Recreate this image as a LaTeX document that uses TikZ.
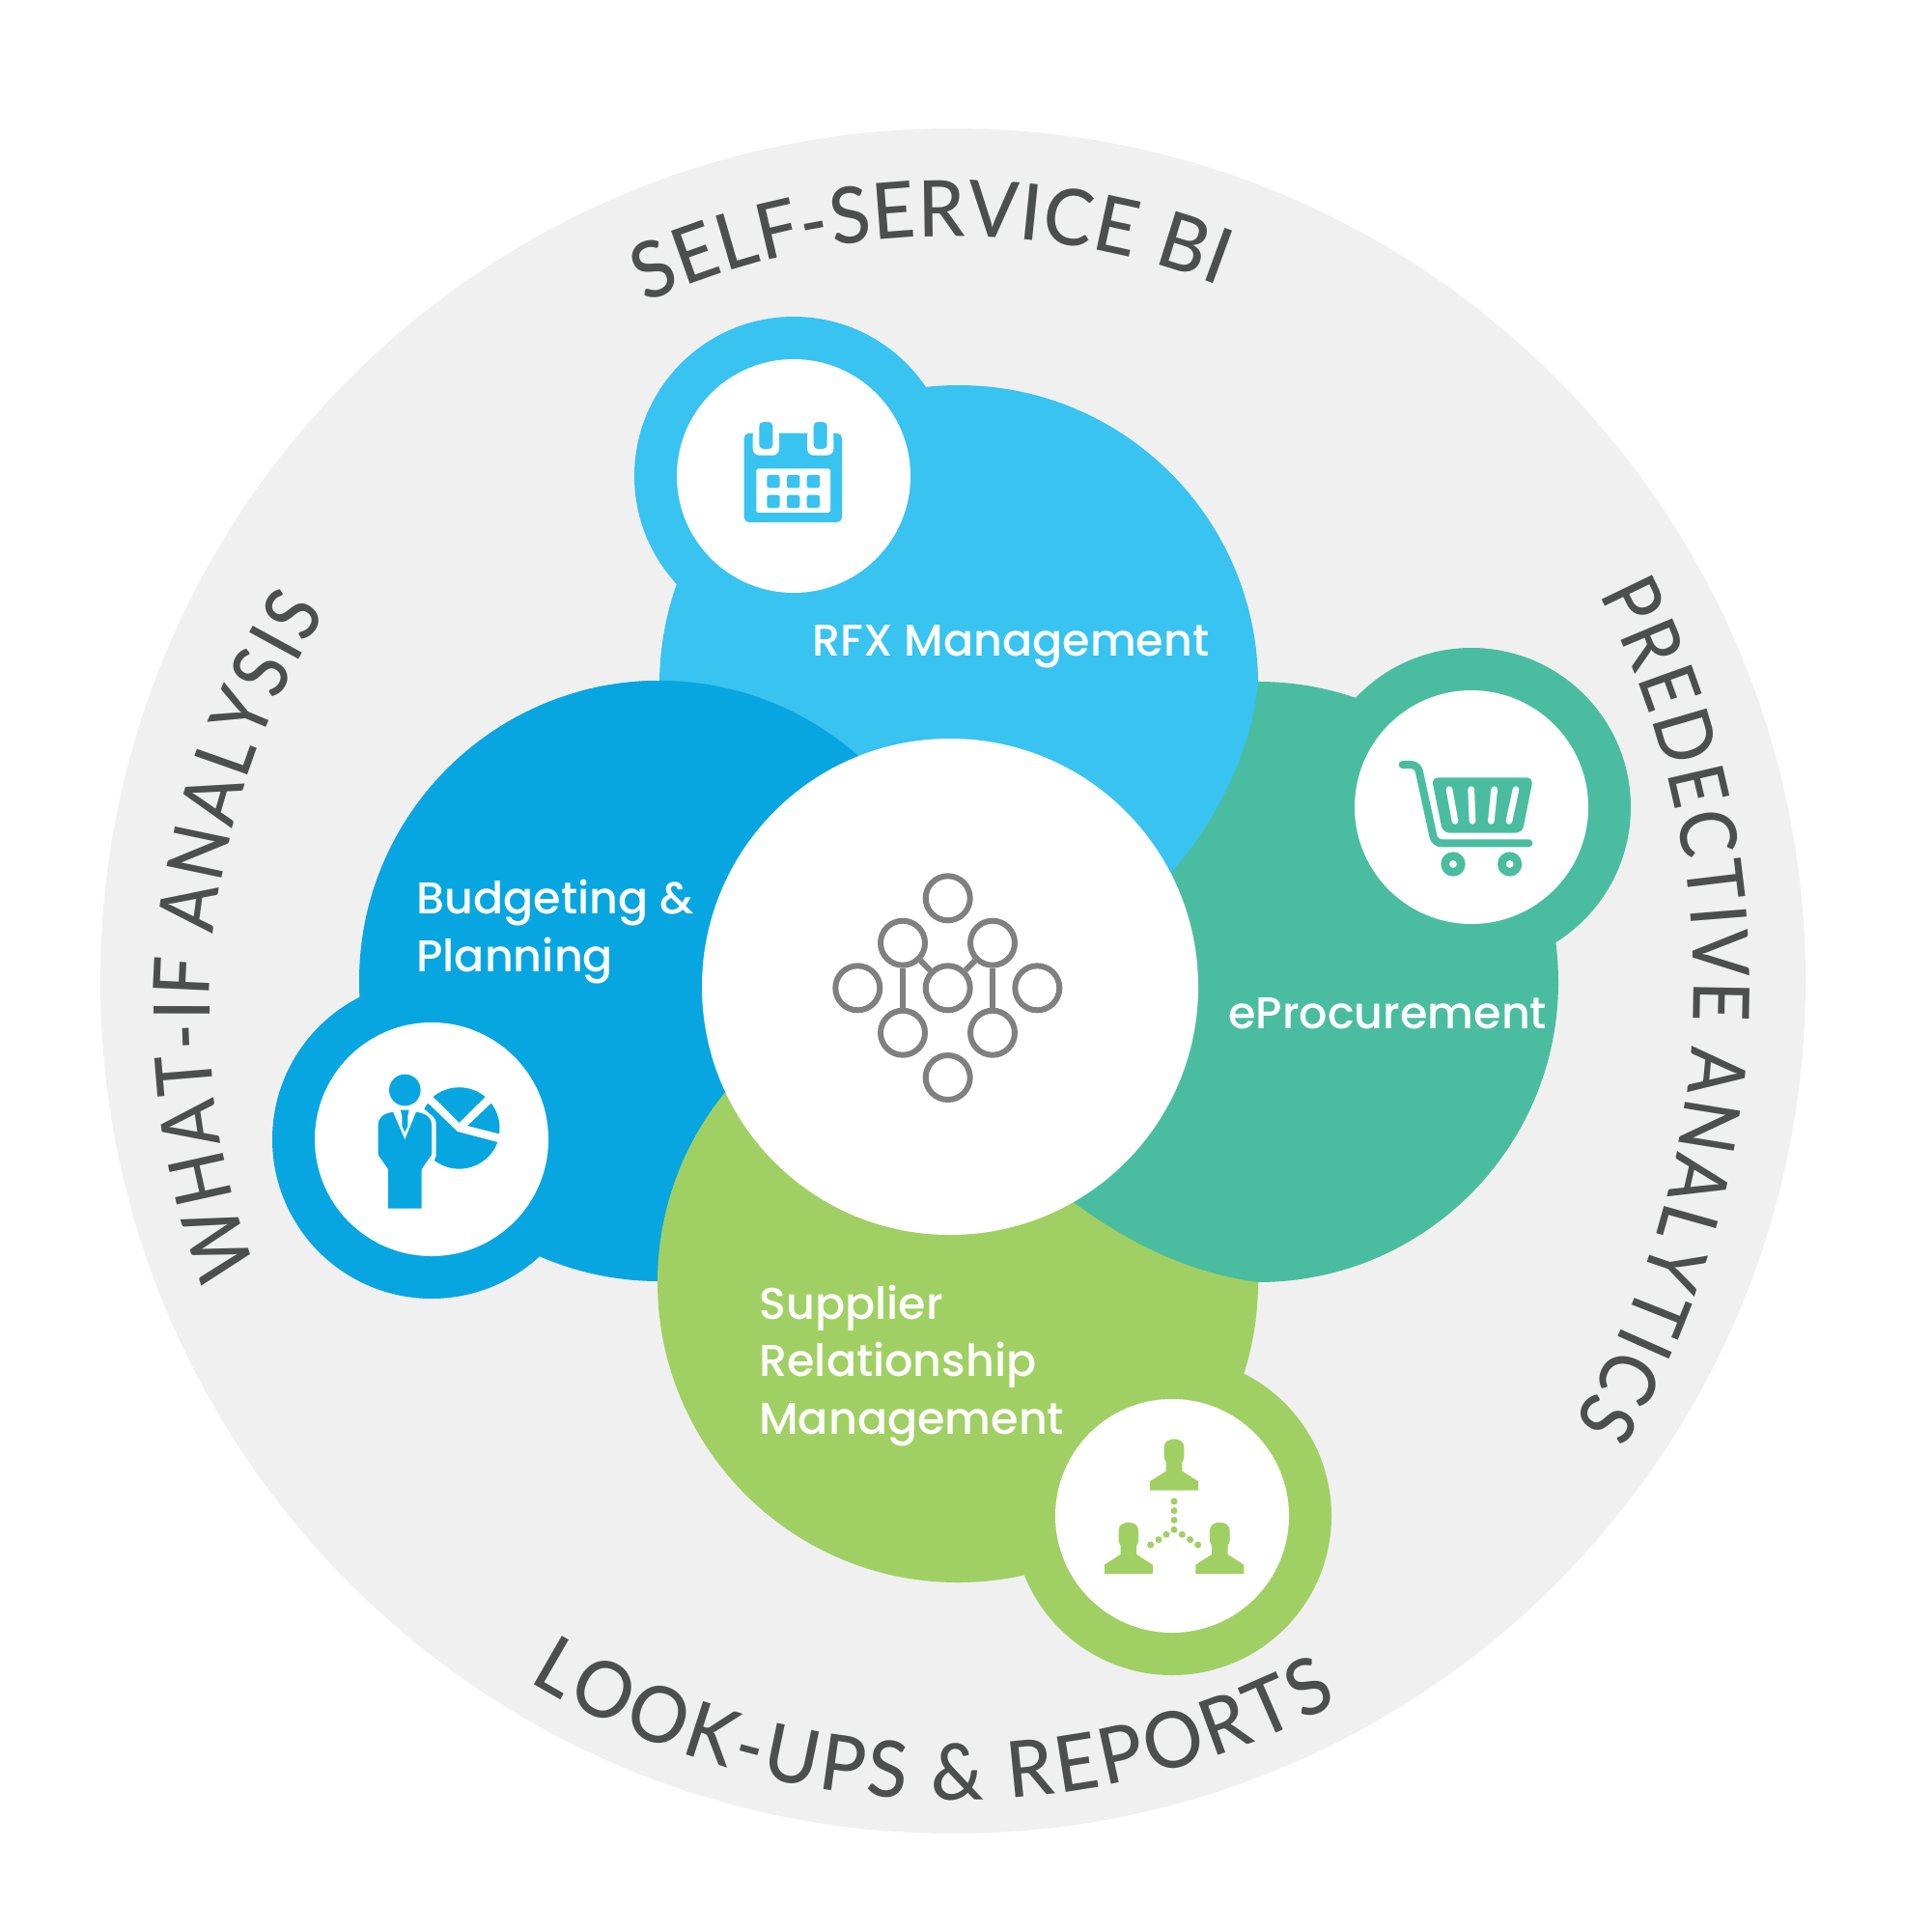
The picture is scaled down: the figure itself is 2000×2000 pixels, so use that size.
\documentclass[tikz,border=0pt]{standalone}
\usepackage{fontspec}
\setmainfont{Poppins Medium}
\newfontfamily\titlefont[FakeStretch=0.95]{Lato Medium}
\newfontfamily\narrowtitlefont[FakeStretch=0.88]{Lato Medium}
\usetikzlibrary{decorations.text}
\definecolor{ringgray}{HTML}{F0F0F0}
\definecolor{inkdark}{HTML}{4D4F4F}
\definecolor{iconrule}{HTML}{808080}
\definecolor{sky}{HTML}{38C3F0}
\definecolor{ocean}{HTML}{07A6E0}
\definecolor{teal}{HTML}{4ABDA0}
\definecolor{leaf}{HTML}{A0D063}
\newcommand\curvefont{\titlefont\fontsize{46pt}{50pt}\selectfont}
\newcommand\narrowcurvefont{\narrowtitlefont\fontsize{46pt}{50pt}\selectfont}
\tikzset{
  arcword/.style={decorate,decoration={text along path,text align=fit to path,text={|\curvefont\color{inkdark}|#1}}},
  arcwordtight/.style={decorate,decoration={text along path,text align=fit to path,text={|\narrowcurvefont\color{inkdark}|#1}}},
  label/.style={text=white,anchor=base west,inner sep=0pt,align=left,font=\fontsize{26.2pt}{33.6pt}\selectfont},
  hubring/.style={circle,draw=iconrule,line width=3.4pt,minimum size=0.92cm,inner sep=0pt},
  hublink/.style={draw=iconrule,line width=3.4pt},
  zoomgrid/.style={x=0.0066667cm,y=-0.0066667cm},
  personicon/.pic={
    \fill (-31,-135) .. controls (-31,-168) and (31,-168) .. (31,-135) -- (31,-100) -- (25,-88) -- (25,-60) -- (75,-28) -- (75,0) -- (-75,0) -- (-75,-28) -- (-25,-60) -- (-25,-88) -- (-31,-100) -- cycle;
  }
}
\begin{document}
\begin{tikzpicture}[x=0.02cm,y=-0.02cm]
\path[use as bounding box,fill=white] (-1,-1) rectangle (1999,1999);
\fill[ringgray] (986,1015) circle[radius=883];
\coordinate (hubtop) at (986,1018);
\coordinate (hubleft) at (986,1047);
\coordinate (hubright) at (866,1020);
\coordinate (hubbottom) at (986,1018);
% lobes
\fill[ocean] (682,1015) circle[radius=311] (446,1179) circle[radius=165];
\fill[leaf] (991,1327) circle[radius=311] (1213,1569) circle[radius=165];
\fill[teal] (1302,705) arc[start angle=-90,end angle=90,radius=311]
  .. controls (1235,1318) and (1170,1290) .. (1100,1236) -- (1000,1000) -- (1200,800) -- cycle;
\fill[teal] (1523,835) circle[radius=165];
\fill[sky] (682,708) arc[start angle=180,end angle=360,radius=310]
  .. controls (1293,785) and (1256,852) .. (1212,903) -- (1000,1000) -- (700,900) -- cycle;
\fill[sky] (821,492) circle[radius=165];
\begin{scope}
\clip (600,650) rectangle (1000,1016);
\fill[ocean] (682,1015) circle[radius=311];
\end{scope}
% white discs
\fill[white] (983,1021) circle[radius=257];
\fill[white] (821,492) circle[radius=121];
\fill[white] (446,1179) circle[radius=121];
\fill[white] (1523,835) circle[radius=121];
\fill[white] (1213,1569) circle[radius=121];
% hub icon
\node[hubring] (ntop) at (980.7,929.3) {};
\node[hubring] (nul) at (934,975.7) {};
\node[hubring] (nur) at (1027,975.7) {};
\node[hubring] (nleft) at (887.3,1022.3) {};
\node[hubring] (nmid) at (980.7,1022.3) {};
\node[hubring] (nright) at (1073.3,1022.3) {};
\node[hubring] (nll) at (934,1068.7) {};
\node[hubring] (nlr) at (1027,1068.7) {};
\node[hubring] (nbot) at (980.7,1115) {};
\draw[hublink] (nul) -- (nll);
\draw[hublink] (nur) -- (nlr);
\draw[hublink] (nul) -- (nmid);
\draw[hublink] (nur) -- (nmid);
% calendar
\begin{scope}[shift={(740,410)},zoomgrid]
\fill[sky,rounded corners=3pt] (89,113) rectangle (393,390);
\fill[white,rounded corners=4pt] (116,100) -- (116,182) -- (198,182) -- (198,100) -- cycle;
\fill[white,rounded corners=4pt] (285,100) -- (285,182) -- (367,182) -- (367,100) -- cycle;
\fill[sky,rounded corners=2.5pt] (136,78) rectangle (178,162);
\fill[sky,rounded corners=2.5pt] (305,78) rectangle (347,162);
\fill[white,rounded corners=1pt] (127,223) rectangle (357,360);
\foreach \cx in {160,222,284}{\foreach \cy in {243,305}{
  \fill[sky,rounded corners=1pt] (\cx,\cy) rectangle +(40,40);}}
\end{scope}
% presenter
\begin{scope}[shift={(350,1090)},zoomgrid,fill=ocean]
\fill (205,114) circle[radius=49];
\fill (168,182) .. controls (135,188) and (122,200) .. (122,225) -- (122,315) -- (153,360) -- (153,482) -- (257,482) -- (257,360) -- (288,315) -- (288,225) .. controls (288,200) and (275,188) .. (240,182) -- (205,268) -- cycle;
\fill (192,176) -- (218,176) -- (214,195) -- (214,225) -- (205,245) -- (196,225) -- (196,195) -- cycle;
\fill (293,135) arc[start angle=-129.9,end angle=-50.1,radius=126] -- (374,215) -- cycle;
\fill (473,155) arc[start angle=-37.9,end angle=8.1,radius=126] -- (400,225) -- cycle;
\fill (493,276) arc[start angle=20.3,end angle=127.5,radius=127] -- (302,320) -- (302,215) .. controls (302,200) and (285,190) .. (265,172) -- (277,155) -- (368,243) -- cycle;
\end{scope}
% cart
\begin{scope}[shift={(1430,770)},zoomgrid]
\draw[teal,line width=4.6pt,line cap=round,rounded corners=4pt] (65,63) -- (112,63) -- (165,307) -- (457,307);
\fill[teal,rounded corners=4pt] (155,103) -- (471,103) -- (437,275) -- (190,275) -- cycle;
\foreach \ax/\bx in {210/228,278/282,350/340,417/396}{
  \draw[white,line width=3.8pt,line cap=round] (\ax,140) -- (\bx,238);}
\fill[teal,even odd rule] (222,372) circle[radius=38] (222,372) circle[radius=12];
\fill[teal,even odd rule] (398,372) circle[radius=38] (398,372) circle[radius=12];
\end{scope}
% people
\begin{scope}[shift={(1120,1460)},zoomgrid,fill=leaf]
\pic at (285,248) {personicon};
\pic at (143.5,507) {personicon};
\pic at (427,507) {personicon};
\foreach \dx/\dy in {285/282,285/311,285/340,285/370,310/385,335/401,359/417,261/385,237/401,212/417}{
  \fill (\dx,\dy) circle[radius=10.5];}
\end{scope}
% lobe labels
\node[label] (rfx) at (840,678) {RFX Management};
\node[label] (budget) at (430,1005) {Budgeting \&\\Planning};
\node[label] (eproc) at (1271,1064) {eProcurement};
\node[label] (supplier) at (785,1484) {Supplier\\Relationship\\Management};
% ring titles
\path[arcword={SELF-SERVICE BI}] ([shift={(-114.3:774)}]hubtop) arc[start angle=-114.3,end angle=-69.1,radius=774];
\path[arcwordtight={WHAT-IF ANALYSIS}] ([shift={(159.7:770)}]hubleft) arc[start angle=159.7,end angle=212.5,radius=770];
\path[arcwordtight={PREDECTIVE ANALYTICS}] ([shift={(-27.2:887)}]hubright) arc[start angle=-27.2,end angle=30.6,radius=887];
\path[arcword={LOOK-UPS {\&} REPORTS}] ([shift={(121.3:845)}]hubbottom) arc[start angle=121.3,end angle=61.8,radius=845];
\end{tikzpicture}
\end{document}
